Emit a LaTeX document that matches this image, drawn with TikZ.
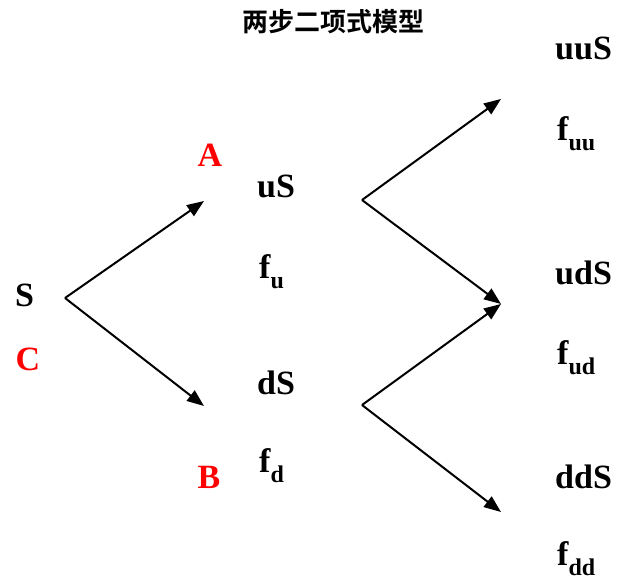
\documentclass[tikz,border=0pt]{standalone}
\usepackage{fontspec}
\setmainfont{Liberation Serif}
\newfontfamily\cjk{Noto Sans CJK SC}[BoldFont={* Bold}]
\usetikzlibrary{arrows.meta}
\tikzset{
  lbl/.style={anchor=base west, inner sep=0pt, font=\fontsize{34}{34}\selectfont\bfseries},
  rlbl/.style={anchor=base, inner sep=0pt, text=red, font=\fontsize{34}{34}\selectfont\bfseries},
  arr/.style={line width=2pt, -{Triangle[length=17pt,width=13pt]}},
}
\newcommand{\fsub}[1]{f\raisebox{-0.3em}{\fontsize{24}{24}\selectfont #1}}
\begin{document}
\begin{tikzpicture}[x=1pt,y=-1pt]
\useasboundingbox (0,0) rectangle (617,581);
\node[inner sep=0pt, font=\cjk\bfseries\fontsize{26}{26}\selectfont] (title) at (333,22) {两步二项式模型};
% labels
\node[lbl] (S) at (15,306) {S};
\node[rlbl] (C) at (28,370) {C};
\node[rlbl] (A) at (210,166) {A};
\node[rlbl] (B) at (209,488) {B};
\node[lbl] (uS) at (257,197) {uS};
\node[lbl] (fu) at (259,278) {\fsub{u}};
\node[lbl] (dS) at (257,394) {dS};
\node[lbl] (fd) at (259,472) {\fsub{d}};
\node[lbl] (uuS) at (555,59) {uuS};
\node[lbl] (fuu) at (557,140) {\fsub{uu}};
\node[lbl] (udS) at (555,284) {udS};
\node[lbl] (fud) at (557,364) {\fsub{ud}};
\node[lbl] (ddS) at (555,488) {ddS};
\node[lbl] (fdd) at (557,565) {\fsub{dd}};
% tree points
\coordinate (p0) at (65,298);
\coordinate (pu) at (204,201);
\coordinate (pd) at (204,406);
\coordinate (q1) at (362,200);
\coordinate (q2) at (362,405);
\coordinate (ruu) at (501,99);
\coordinate (rud) at (501,304);
\coordinate (rdd) at (501,512);
\draw[arr] (p0) -- (pu);
\draw[arr] (p0) -- (pd);
\draw[arr] (q1) -- (ruu);
\draw[arr] (q1) -- (rud);
\draw[arr] (q2) -- (rud);
\draw[arr] (q2) -- (rdd);
\end{tikzpicture}
\end{document}
